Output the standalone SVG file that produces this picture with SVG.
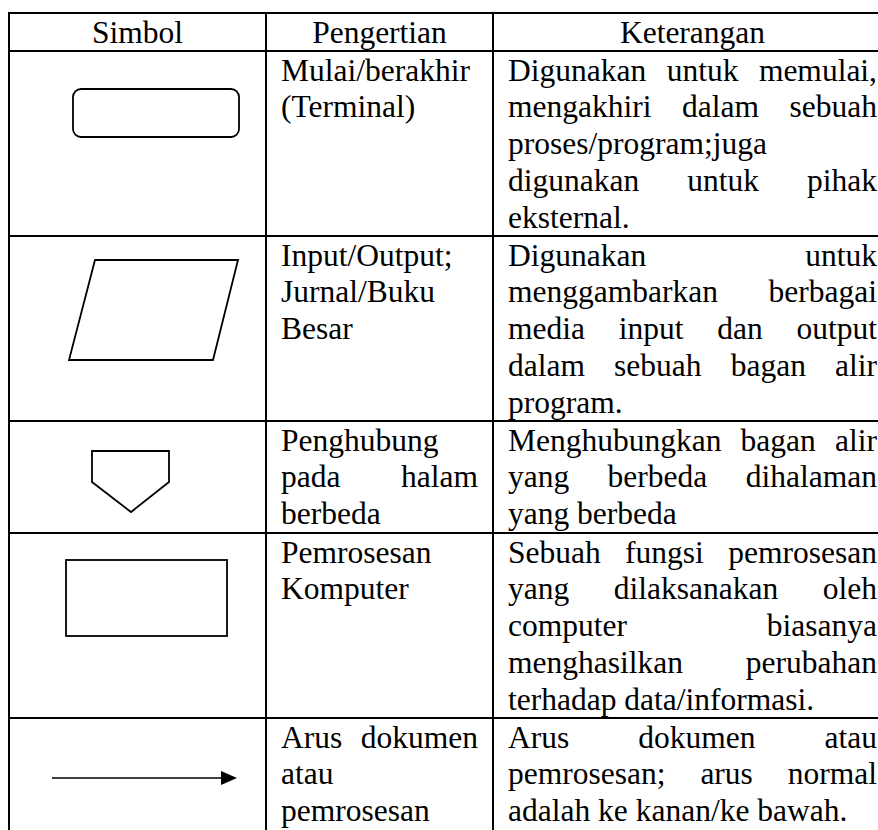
<svg xmlns="http://www.w3.org/2000/svg" width="878" height="830" viewBox="0 0 878 830">
<style>
text{font-family:"Liberation Serif","Times New Roman",serif;font-size:31.5px;fill:#000}
.c{text-anchor:middle}
.e{text-anchor:end}
.grid line{stroke:#000;stroke-width:2}
.sym{fill:#fff;stroke:#000;stroke-width:1.8}
</style>
<defs>
<marker id="ah" markerWidth="16" markerHeight="14" refX="0" refY="7" orient="auto" markerUnits="userSpaceOnUse">
<polygon points="0,0 16,7 0,14" fill="#000"/>
</marker>
</defs>
<rect width="878" height="830" fill="#fff"/>
<g id="grid" class="grid">
<line x1="8" y1="13" x2="878" y2="13"/>
<line x1="9" y1="12" x2="9" y2="830"/>
<line x1="266" y1="12" x2="266" y2="830"/>
<line x1="493" y1="12" x2="493" y2="830"/>
<line x1="8" y1="51" x2="878" y2="51"/>
<line x1="8" y1="236" x2="878" y2="236"/>
<line x1="8" y1="421" x2="878" y2="421"/>
<line x1="8" y1="533" x2="878" y2="533"/>
<line x1="8" y1="718" x2="878" y2="718"/>
</g>
<g id="header">
<text class="c" x="137.5" y="42.5">Simbol</text>
<text class="c" x="379.5" y="42.5">Pengertian</text>
<text class="c" x="692.5" y="42.5">Keterangan</text>
</g>
<g id="row-terminal">
<rect class="sym" x="73" y="89" width="166" height="48" rx="8"/>
<text x="281" y="80.5">Mulai/berakhir</text>
<text x="281" y="117.4">(Terminal)</text>
<text x="508" y="80.5">Digunakan</text><text x="666.7" y="80.5">untuk</text><text class="e" x="877" y="80.5">memulai,</text>
<text x="508" y="117.4">mengakhiri</text><text x="682" y="117.4">dalam</text><text class="e" x="877" y="117.4">sebuah</text>
<text x="508" y="154.3">proses/program;juga</text>
<text x="508" y="191.2">digunakan</text><text x="687.2" y="191.2">untuk</text><text class="e" x="877" y="191.2">pihak</text>
<text x="508" y="228.1">eksternal.</text>
</g>
<g id="row-io">
<polygon class="sym" points="95,260 238,260 213,360 69,360"/>
<text x="281" y="265.5">Input/Output;</text>
<text x="281" y="302.4">Jurnal/Buku</text>
<text x="281" y="339.3">Besar</text>
<text x="508" y="265.5">Digunakan</text><text class="e" x="877" y="265.5">untuk</text>
<text x="508" y="302.4">menggambarkan</text><text class="e" x="877" y="302.4">berbagai</text>
<text x="508" y="339.3">media</text><text x="618.7" y="339.3">input</text><text x="717.2" y="339.3">dan</text><text class="e" x="877" y="339.3">output</text>
<text x="508" y="376.2">dalam</text><text x="614.1" y="376.2">sebuah</text><text x="730.7" y="376.2">bagan</text><text class="e" x="877" y="376.2">alir</text>
<text x="508" y="413.1">program.</text>
</g>
<g id="row-connector">
<polygon class="sym" points="92,451 169,451 169,482 131,512 92,482"/>
<text x="281" y="450.5">Penghubung</text>
<text x="281" y="487.4">pada</text><text class="e" x="478" y="487.4">halam</text>
<text x="281" y="524.3">berbeda</text>
<text x="508" y="450.5">Menghubungkan</text><text x="740.6" y="450.5">bagan</text><text class="e" x="877" y="450.5">alir</text>
<text x="508" y="487.4">yang</text><text x="607.6" y="487.4">berbeda</text><text class="e" x="877" y="487.4">dihalaman</text>
<text x="508" y="524.3">yang berbeda</text>
</g>
<g id="row-process">
<rect class="sym" x="66" y="560" width="161" height="76"/>
<text x="281" y="562.5">Pemrosesan</text>
<text x="281" y="599.4">Komputer</text>
<text x="508" y="562.5">Sebuah</text><text x="625.1" y="562.5">fungsi</text><text class="e" x="877" y="562.5">pemrosesan</text>
<text x="508" y="599.4">yang</text><text x="613.8" y="599.4">dilaksanakan</text><text class="e" x="877" y="599.4">oleh</text>
<text x="508" y="636.3">computer</text><text class="e" x="877" y="636.3">biasanya</text>
<text x="508" y="673.2">menghasilkan</text><text class="e" x="877" y="673.2">perubahan</text>
<text x="508" y="710.1">terhadap data/informasi.</text>
</g>
<g id="row-flow">
<text x="281" y="747.5">Arus</text><text class="e" x="478" y="747.5">dokumen</text>
<text x="281" y="784.4">atau</text>
<text x="281" y="821.3">pemrosesan</text>
<text x="508" y="747.5">Arus</text><text x="638.2" y="747.5">dokumen</text><text class="e" x="877" y="747.5">atau</text>
<text x="508" y="784.4">pemrosesan;</text><text x="700.4" y="784.4">arus</text><text class="e" x="877" y="784.4">normal</text>
<text x="508" y="821.3">adalah ke kanan/ke bawah.</text>
</g>
<g id="connectors">
<line x1="52" y1="778" x2="221" y2="778" stroke="#000" stroke-width="1.5" marker-end="url(#ah)"/>
</g>
</svg>
